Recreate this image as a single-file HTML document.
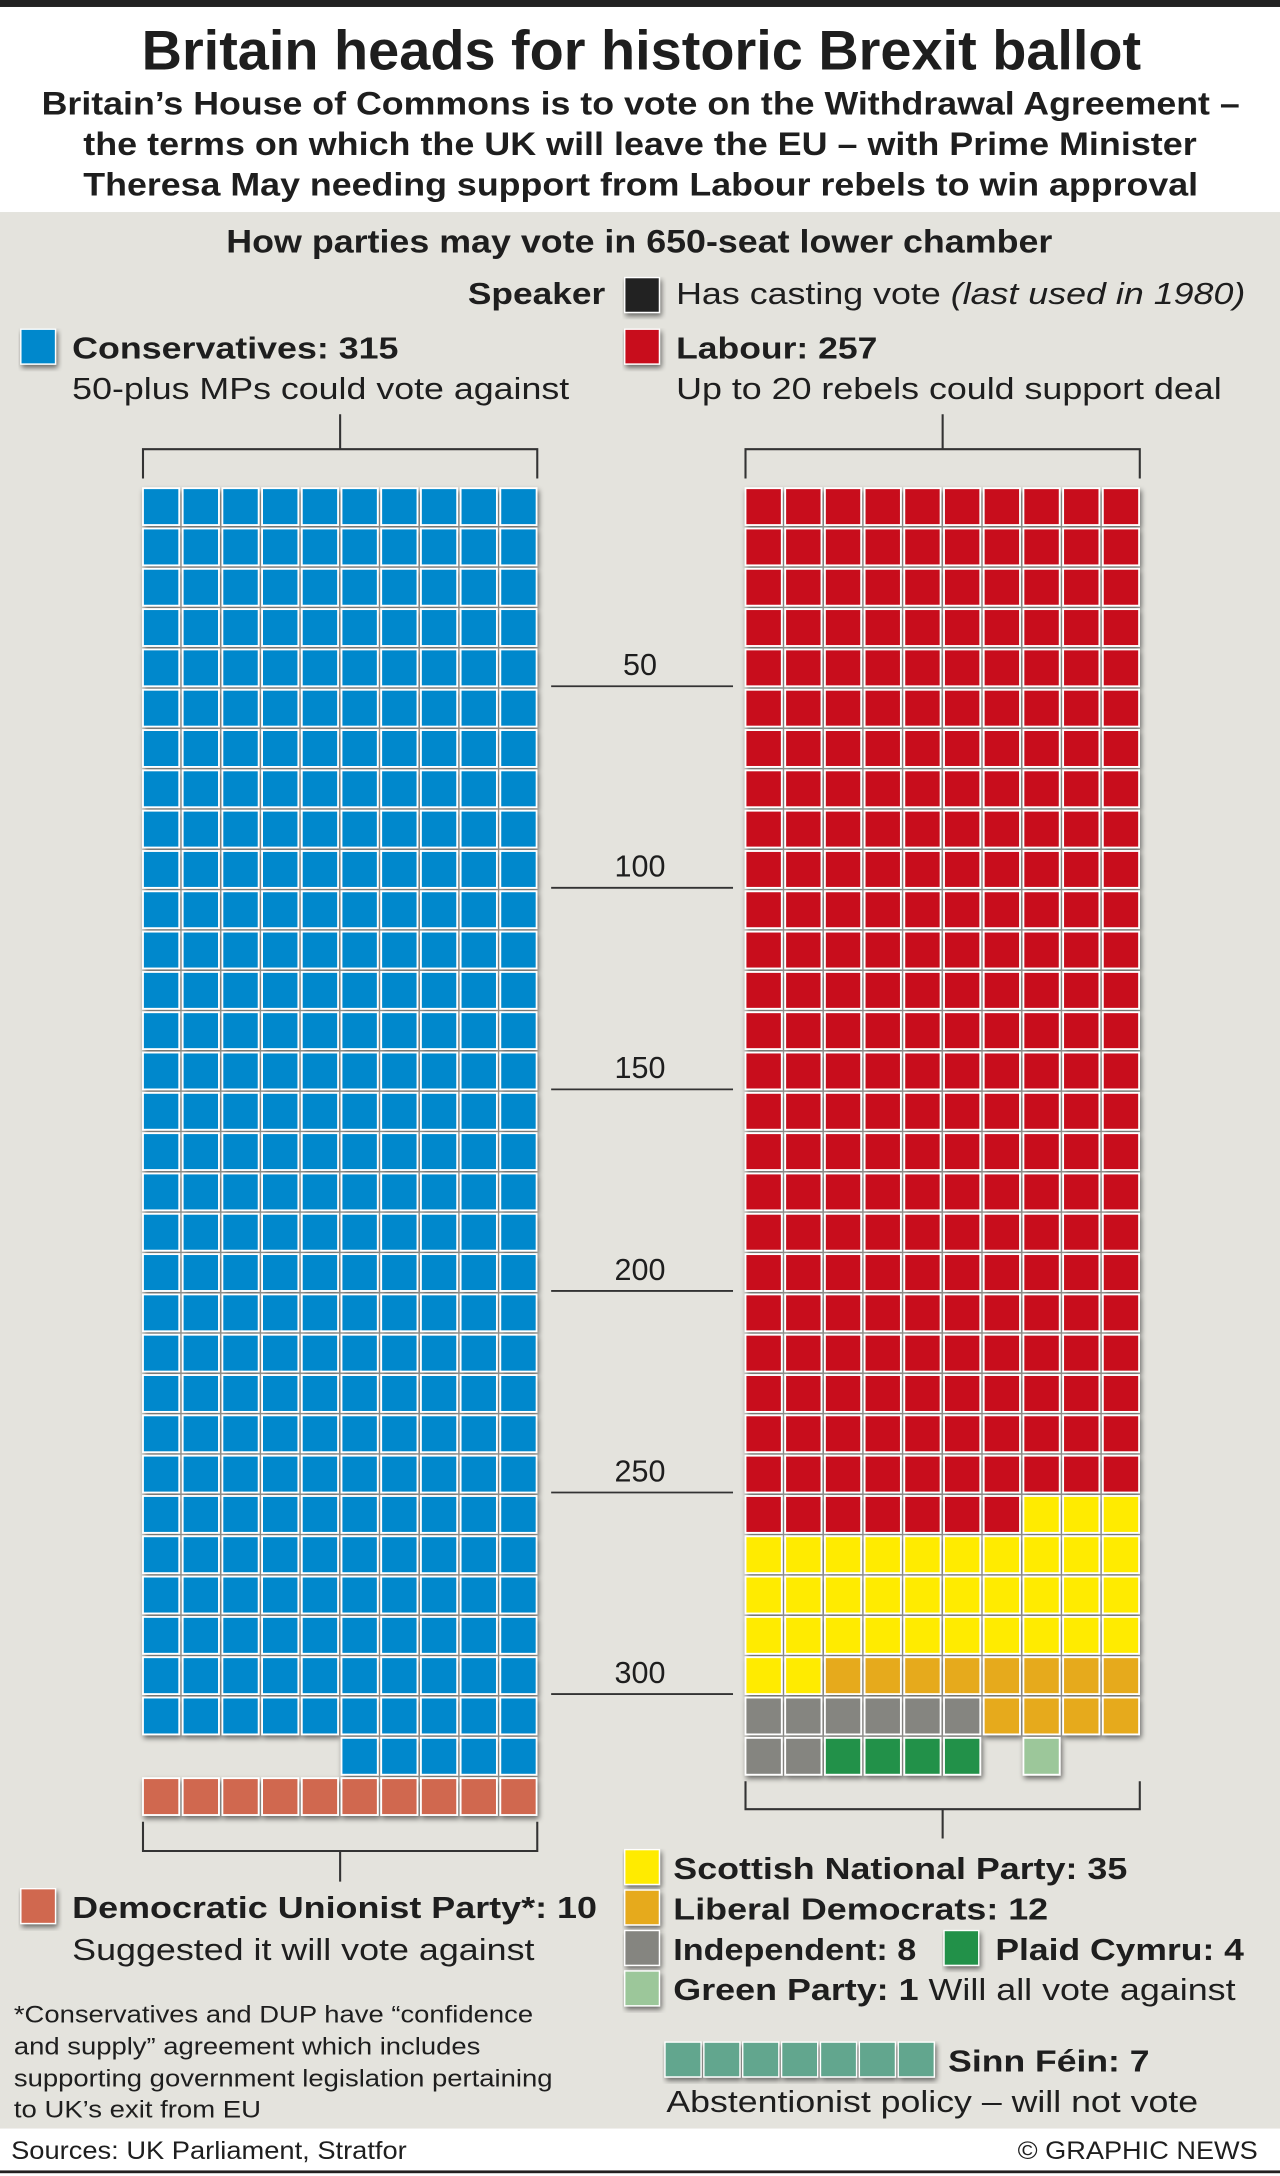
<!DOCTYPE html>
<html><head><meta charset="utf-8"><style>
html,body{margin:0;padding:0;background:#fff}
svg{display:block}
text{font-family:"Liberation Sans",Arial,sans-serif;fill:#1e1e1e}
.b{font-weight:bold}
</style></head><body>
<svg id="chart" xmlns="http://www.w3.org/2000/svg" width="1280" height="2176" viewBox="0 0 922 1560" preserveAspectRatio="none">
<defs>
<filter id="sh" x="-10%" y="-10%" width="130%" height="130%"><feGaussianBlur in="SourceAlpha" stdDeviation="2"/><feOffset dx="1" dy="2" result="o"/><feComponentTransfer><feFuncA type="linear" slope="0.55"/></feComponentTransfer><feMerge><feMergeNode/><feMergeNode in="SourceGraphic"/></feMerge></filter>
</defs>
<rect x="0" y="0" width="922" height="5" fill="#222"/>
<rect x="0" y="152" width="922" height="1374" fill="#e4e3dd"/>
<text class="b" x="102" y="50" font-size="40" textLength="720" lengthAdjust="spacingAndGlyphs">Britain heads for historic Brexit ballot</text>
<g class="b" font-size="23">
<text x="30" y="82" class="b" textLength="863" lengthAdjust="spacingAndGlyphs">Britain’s House of Commons is to vote on the Withdrawal Agreement –</text>
<text x="60" y="111" class="b" textLength="802" lengthAdjust="spacingAndGlyphs">the terms on which the UK will leave the EU – with Prime Minister</text>
<text x="60" y="140" class="b" textLength="803" lengthAdjust="spacingAndGlyphs">Theresa May needing support from Labour rebels to win approval</text>
</g>
<text class="b" x="163" y="181" font-size="23" textLength="595" lengthAdjust="spacingAndGlyphs">How parties may vote in 650-seat lower chamber</text>

<g>
<text class="b" x="337" y="218" font-size="22" textLength="99" lengthAdjust="spacingAndGlyphs">Speaker</text>
<rect x="450" y="199" width="25" height="25" fill="#222" stroke="#fff" stroke-width="1" filter="url(#sh)"/>
<text x="487" y="218" font-size="22" textLength="410" lengthAdjust="spacingAndGlyphs">Has casting vote <tspan font-style="italic">(last used in 1980)</tspan></text>
</g>
<g>
<rect x="15" y="236" width="25" height="25" fill="#0088cc" stroke="#fff" stroke-width="1" filter="url(#sh)"/>
<text class="b" x="52" y="257" font-size="22" textLength="235" lengthAdjust="spacingAndGlyphs">Conservatives: 315</text>
<text x="52" y="286" font-size="22" textLength="358" lengthAdjust="spacingAndGlyphs">50-plus MPs could vote against</text>
</g>
<g>
<rect x="450" y="236" width="25" height="25" fill="#c8101e" stroke="#fff" stroke-width="1" filter="url(#sh)"/>
<text class="b" x="487" y="257" font-size="22" textLength="145" lengthAdjust="spacingAndGlyphs">Labour: 257</text>
<text x="487" y="286" font-size="22" textLength="393" lengthAdjust="spacingAndGlyphs">Up to 20 rebels could support deal</text>
</g>

<g stroke="#333" stroke-width="1.5" fill="none">
<path d="M245 297V322M103 343V322H387V343"/>
<path d="M679 297V322M537 343V322H821V343"/>
<path d="M103 1306V1327H387V1306M245 1327V1349"/>
<path d="M537 1277V1297H821V1277M679 1297V1318"/>
</g>

<g id="scale"></g>
<g id="leftGrid" filter="url(#sh)"></g>
<g id="rightGrid" filter="url(#sh)"></g>

<g>
<rect x="15" y="1354" width="25" height="25" fill="#d0674f" stroke="#fff" stroke-width="1" filter="url(#sh)"/>
<text class="b" x="52" y="1375" font-size="22" textLength="378" lengthAdjust="spacingAndGlyphs">Democratic Unionist Party*: 10</text>
<text x="52" y="1405" font-size="22" textLength="333" lengthAdjust="spacingAndGlyphs">Suggested it will vote against</text>
</g>
<g font-size="17">
<text x="10" y="1450" textLength="374" lengthAdjust="spacingAndGlyphs">*Conservatives and DUP have “confidence</text>
<text x="10" y="1473" textLength="336" lengthAdjust="spacingAndGlyphs">and supply” agreement which includes</text>
<text x="10" y="1496" textLength="388" lengthAdjust="spacingAndGlyphs">supporting government legislation pertaining</text>
<text x="10" y="1518" textLength="178" lengthAdjust="spacingAndGlyphs">to UK’s exit from EU</text>
</g>
<g font-size="22">
<rect x="450" y="1326" width="25" height="25" fill="#ffeb00" stroke="#fff" filter="url(#sh)"/>
<text class="b" x="485" y="1347" textLength="327" lengthAdjust="spacingAndGlyphs">Scottish National Party: 35</text>
<rect x="450" y="1355" width="25" height="25" fill="#e6aa1e" stroke="#fff" filter="url(#sh)"/>
<text class="b" x="485" y="1376" textLength="270" lengthAdjust="spacingAndGlyphs">Liberal Democrats: 12</text>
<rect x="450" y="1384" width="25" height="25" fill="#858580" stroke="#fff" filter="url(#sh)"/>
<text class="b" x="485" y="1405" textLength="175" lengthAdjust="spacingAndGlyphs">Independent: 8</text>
<rect x="680" y="1384" width="25" height="25" fill="#23914a" stroke="#fff" filter="url(#sh)"/>
<text class="b" x="717" y="1405" textLength="179" lengthAdjust="spacingAndGlyphs">Plaid Cymru: 4</text>
<rect x="450" y="1413" width="25" height="25" fill="#9cc79a" stroke="#fff" filter="url(#sh)"/>
<text x="485" y="1434" textLength="405" lengthAdjust="spacingAndGlyphs"><tspan class="b" font-weight="bold">Green Party: 1</tspan> Will all vote against</text>
</g>
<g id="sinnfein">
<text class="b" x="683" y="1485" font-size="22" textLength="145" lengthAdjust="spacingAndGlyphs">Sinn Féin: 7</text>
<text x="480" y="1514" font-size="22" textLength="383" lengthAdjust="spacingAndGlyphs">Abstentionist policy – will not vote</text>
</g>
<text x="8" y="1548" font-size="18" textLength="285" lengthAdjust="spacingAndGlyphs">Sources: UK Parliament, Stratfor</text>
<text x="733" y="1548" font-size="18" textLength="173" lengthAdjust="spacingAndGlyphs">© GRAPHIC NEWS</text>
<rect x="0" y="1556" width="922" height="2" fill="#222"/>
</svg>
<script>
const NS = "http://www.w3.org/2000/svg";
const leftParties = ["Conservatives"];
const leftSeats = [315];
const dupSeats = [10];
const rightMainParties = ["Labour", "SNP", "Liberal Democrats"];
const rightMainSeats = [257, 35, 12];
const rightLowerParties = ["Independent", "Plaid Cymru", "Green Party"];
const rightLowerSeats = [8, 4, 1];
const sinnFeinSeats = [7];
const scaleTicks = [50, 100, 150, 200, 250, 300];

const colors = {"Conservatives":"#0088cc","DUP":"#d0674f","Labour":"#c8101e","SNP":"#ffeb00","Liberal Democrats":"#e6aa1e","Independent":"#858580","Plaid Cymru":"#23914a","Green Party":"#9cc79a","Sinn Fein":"#62a68e"};
const COLS = 10, PX = 28.6, PY = 28.9, TOP = 349, LX = 102, RX = 536;
function xCol(base, c){ return base + c*PX; }
function yRow(r){ return TOP + r*PY; }
function cell(g, base, r, c, party){
  const el = document.createElementNS(NS, "rect");
  el.setAttribute("x", xCol(base, c) + 1);
  el.setAttribute("y", yRow(r) + 1);
  el.setAttribute("width", PX - 2.5);
  el.setAttribute("height", PY - 2.5);
  el.setAttribute("fill", colors[party]);
  el.setAttribute("stroke", "#fff");
  el.setAttribute("stroke-width", "1.3");
  
  
  g.appendChild(el);
}
// Left grid
const lg = document.getElementById("leftGrid");
const cons = leftSeats[0];
const full = Math.floor(cons / COLS), rem = cons % COLS;
for (let i = 0; i < full*COLS; i++) cell(lg, LX, Math.floor(i/COLS), i%COLS, leftParties[0]);
for (let j = 0; j < rem; j++) cell(lg, LX, full, COLS - rem + j, leftParties[0]);
const dupRow = full + (rem ? 1 : 0);
for (let j = 0; j < dupSeats[0]; j++) cell(lg, LX, dupRow + Math.floor(j/COLS), j%COLS, "DUP");
// Right grid
const rg = document.getElementById("rightGrid");
let pos = 0;
const total = rightMainSeats.reduce((a,b)=>a+b,0);
const fillEnd = Math.floor(total / COLS) * COLS;
const leftover = total - fillEnd;
for (let p = 0; p < rightMainParties.length; p++) {
  for (let k = 0; k < rightMainSeats[p]; k++) {
    if (pos < fillEnd) { cell(rg, RX, Math.floor(pos/COLS), pos%COLS, rightMainParties[p]); pos++; }
  }
}
const nextRow = fillEnd / COLS;
for (let j = 0; j < leftover; j++) cell(rg, RX, nextRow, COLS - leftover + j, rightMainParties[rightMainParties.length-1]);
// lower parties: left-aligned, first row width reduced by leftover
let r = nextRow, c = 0;
function advance(){ c++; const w = (r === nextRow) ? COLS - leftover : COLS; if (c >= w) { r++; c = 0; } }
for (let p = 0; p < rightLowerParties.length; p++) {
  if (rightLowerParties[p] === "Green Party") advance();
  for (let k = 0; k < rightLowerSeats[p]; k++) { cell(rg, RX, r, c, rightLowerParties[p]); advance(); }
}
// Scale
const sg = document.getElementById("scale");
scaleTicks.forEach(t => {
  const y = yRow(t / COLS) - 1.5;
  const ln = document.createElementNS(NS, "line");
  ln.setAttribute("x1", 397); ln.setAttribute("x2", 528);
  ln.setAttribute("y1", y); ln.setAttribute("y2", y);
  ln.setAttribute("stroke", "#333"); ln.setAttribute("stroke-width", "1.3");
  
  
  sg.appendChild(ln);
  const tx = document.createElementNS(NS, "text");
  tx.setAttribute("x", 461); tx.setAttribute("y", y - 8);
  tx.setAttribute("text-anchor", "middle"); tx.setAttribute("font-size", "22");
  tx.textContent = t;
  
  
  sg.appendChild(tx);
});
// Sinn Fein squares
const sf = document.getElementById("sinnfein");
for (let j = 0; j < sinnFeinSeats[0]; j++) {
  const el = document.createElementNS(NS, "rect");
  el.setAttribute("x", 479 + j*28); el.setAttribute("y", 1464);
  el.setAttribute("width", 26); el.setAttribute("height", 25);
  el.setAttribute("fill", colors["Sinn Fein"]); el.setAttribute("stroke", "#fff");
  el.setAttribute("filter", "url(#sh)");
  
  
  sf.appendChild(el);
}
</script>
</body></html>
